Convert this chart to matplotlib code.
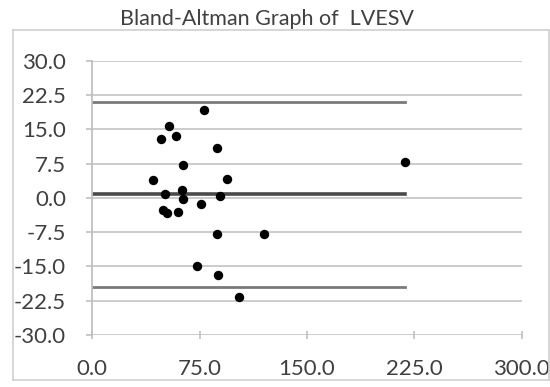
import numpy as np
import matplotlib
matplotlib.use("Agg")
import matplotlib.pyplot as plt
from matplotlib.lines import Line2D

mean_vals = [78.3, 53.8, 47.8, 58.5, 87.1, 63.6, 218.5, 42.2, 93.9, 50.8, 62.5,
             63.6, 76.0, 89.2, 49.6, 52.0, 59.7, 86.9, 120.0, 73.4, 88.1, 102.3]
diff_vals = [19.3, 15.7, 12.9, 13.5, 10.9, 7.1, 7.9, 3.8, 4.2, 0.9, 1.8,
             -0.2, -1.3, 0.3, -2.6, -3.3, -3.1, -7.9, -8.0, -15.0, -16.8, -21.7]

bias = 0.87
upper_loa = 21.06
lower_loa = -19.55

x_ticks = [0, 75, 150, 225, 300]
y_ticks = [30, 22.5, 15, 7.5, 0, -7.5, -15, -22.5, -30]

text_col = "#404040"
plt.rcParams["font.family"] = ["Lato", "DejaVu Sans"]


def main():
    fig = plt.figure(figsize=(5.5, 3.87), dpi=100)
    ax = fig.add_axes([0.1678, 0.1344, 0.9485 - 0.1678, 0.8432 - 0.1344])

    # horizontal gridlines
    for v in y_ticks:
        ax.axhline(v, color="#c8c8c8", linewidth=1.3, zorder=1)

    # mean difference and limits of agreement, drawn up to the largest mean
    x_end = max(mean_vals)
    ax.plot([0, x_end], [upper_loa, upper_loa], color="#7a7a7a", linewidth=2.0, zorder=2)
    ax.plot([0, x_end], [bias, bias], color="#4a4a4a", linewidth=2.6, zorder=2)
    ax.plot([0, x_end], [lower_loa, lower_loa], color="#7a7a7a", linewidth=2.0, zorder=2)

    ax.scatter(mean_vals, diff_vals, s=46, color="black", zorder=3, linewidths=0)

    ax.set_xlim(0, 300)
    ax.set_ylim(-30, 30)
    ax.set_xticks(x_ticks)
    ax.set_xticklabels([f"{v:.1f}" for v in x_ticks])
    ax.set_yticks(y_ticks)
    ax.set_yticklabels([f"{v:.1f}" for v in y_ticks])

    for side in ["top", "right", "bottom"]:
        ax.spines[side].set_visible(False)
    ax.spines["left"].set_color("#c0c0c0")
    ax.spines["left"].set_linewidth(1.3)

    ax.tick_params(axis="y", colors="#c0c0c0", labelcolor=text_col, labelsize=16,
                   length=4, width=1.2, pad=15)
    ax.tick_params(axis="x", colors="#c0c0c0", labelcolor=text_col, labelsize=16,
                   length=6, width=1.2, direction="inout", pad=14)

    # light outer frame of the chart area
    fx0, fx1 = 12.7 / 550, 549 / 550
    fy0, fy1 = 1 - 380 / 387, 1 - 30 / 387
    frame_col = "#d0d0d0"
    for xs, ys in [([fx0, fx1], [fy1, fy1]), ([fx0, fx1], [fy0, fy0]),
                   ([fx0, fx0], [fy0, fy1]), ([fx1, fx1], [fy0, fy1])]:
        fig.add_artist(Line2D(xs, ys, transform=fig.transFigure, color=frame_col, linewidth=1.2))

    fig.text(0.485, 1 - 25 / 387, "Bland-Altman Graph of  LVESV", ha="center", va="baseline",
             fontsize=15.5, color=text_col)

    fig.savefig("out.png", dpi=100, facecolor="white")


if __name__ == "__main__":
    main()
